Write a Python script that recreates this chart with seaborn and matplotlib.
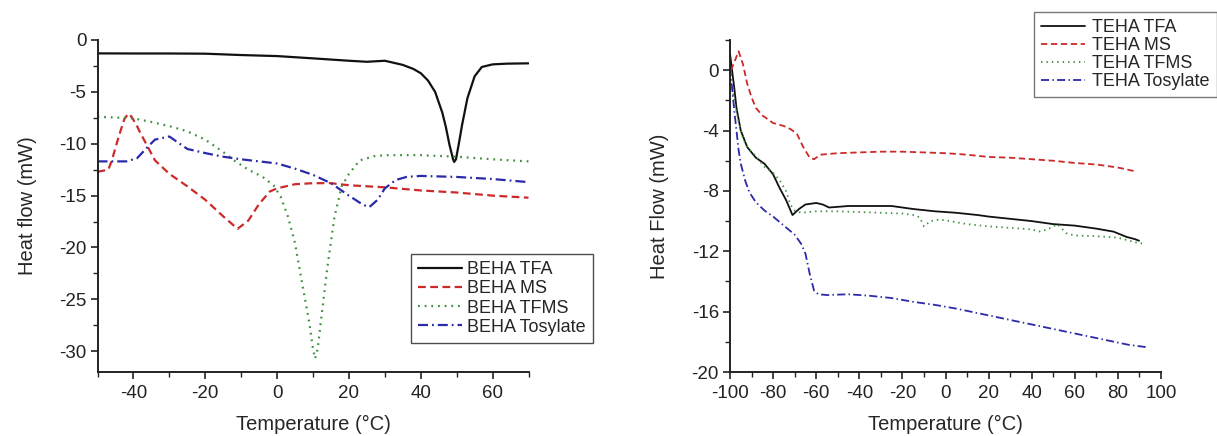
import matplotlib
matplotlib.use("Agg")
import matplotlib.pyplot as plt
from matplotlib.ticker import MultipleLocator
import seaborn as sns
import pandas as pd

# ---- BEHA salts (left panel) ----
beha_tfa_t = [-50, -40, -30, -20, -10, 0, 10, 20, 25, 30, 35, 38, 40, 42, 44, 46, 47, 48, 49,
              49.3, 49.8, 50.5, 51.5, 53, 55, 57, 60, 64, 70]
beha_tfa_q = [-1.29, -1.3, -1.3, -1.32, -1.45, -1.55, -1.77, -2.0, -2.1, -2.0, -2.4, -2.8,
              -3.2, -3.9, -5.0, -7.0, -8.4, -10.1, -11.5, -11.75, -11.5, -10.2, -8.2, -5.6,
              -3.5, -2.6, -2.35, -2.28, -2.25]

beha_ms_t = [-50, -47, -46, -44, -42.5, -41.4, -40.5, -39, -38, -36, -34, -30, -25, -20, -15,
             -11, -8, -5, -2, 0, 5, 10, 15, 20, 30, 40, 50, 60, 70]
beha_ms_q = [-12.7, -12.5, -11.6, -9.2, -7.6, -7.1, -7.4, -8.3, -9.0, -10.3, -11.6, -12.9,
             -14.1, -15.4, -17.0, -18.2, -17.4, -15.8, -14.6, -14.3, -13.9, -13.8, -13.8,
             -14.0, -14.2, -14.5, -14.7, -15.0, -15.2]

beha_tfms_t = [-50, -40, -35, -30, -25, -20, -15, -12, -8, -4, -1, 1, 3, 5, 7, 9, 10, 10.6,
               11.3, 12, 14, 16, 18, 20, 23, 27, 30, 40, 50, 60, 70]
beha_tfms_q = [-7.4, -7.55, -7.9, -8.3, -8.8, -9.6, -10.8, -11.6, -12.5, -13.2, -14.0, -15.1,
               -17.0, -19.6, -23.5, -27.3, -29.8, -30.7, -29.8, -27.7, -21.9, -17.0, -14.1,
               -12.9, -11.6, -11.2, -11.1, -11.1, -11.25, -11.5, -11.7]

beha_tos_t = [-50, -42, -39, -36, -34, -30, -25, -20, -15, -10, -5, 0, 5, 10, 15, 20, 24,
              25.7, 28, 30, 33, 36, 40, 50, 60, 70]
beha_tos_q = [-11.7, -11.7, -11.4, -10.3, -9.6, -9.3, -10.5, -10.9, -11.25, -11.5, -11.7,
              -11.9, -12.4, -13.0, -13.8, -15.0, -15.9, -16.1, -15.4, -14.3, -13.5, -13.2,
              -13.1, -13.2, -13.4, -13.7]

# ---- TEHA salts (right panel) ----
teha_tfa_t = [-100, -98, -97, -95, -92, -88, -84, -80, -77, -74, -71, -68, -65, -60, -57, -54,
              -45, -35, -25, -15, -5, 5, 15, 20, 30, 40, 50, 60, 70, 78, 84, 88, 89.8]
teha_tfa_q = [1.1, -1.2, -2.5, -4.0, -5.1, -5.8, -6.2, -6.9, -7.8, -8.6, -9.6, -9.2, -8.9,
              -8.8, -8.9, -9.1, -9.0, -9.0, -9.0, -9.2, -9.35, -9.45, -9.6, -9.7, -9.85,
              -10.0, -10.2, -10.3, -10.5, -10.7, -11.05, -11.2, -11.3]

teha_ms_t = [-99.5, -96, -94, -92, -90, -88, -85, -80, -75, -72, -69, -66, -63, -61, -58, -50,
             -40, -30, -20, -10, 0, 10, 20, 30, 40, 50, 60, 70, 80, 88]
teha_ms_q = [0.0, 1.25, 0.4, -0.9, -1.8, -2.5, -3.0, -3.5, -3.7, -3.9, -4.2, -5.1, -5.8, -5.9,
             -5.6, -5.5, -5.45, -5.4, -5.4, -5.45, -5.5, -5.6, -5.75, -5.8, -5.9, -6.0,
             -6.15, -6.25, -6.45, -6.7]

teha_tfms_t = [-100, -98, -96, -94, -92, -88, -84, -80, -77, -74, -72, -70, -67, -60, -50, -40,
               -30, -20, -15, -12, -10, -7, -3, 0, 10, 20, 30, 40, 44, 48, 52, 56, 60, 70,
               80, 88, 92]
teha_tfms_q = [-0.5, -2.0, -3.4, -4.5, -5.1, -5.7, -6.4, -6.8, -7.3, -8.0, -8.9, -9.3, -9.45,
               -9.35, -9.35, -9.4, -9.45, -9.5, -9.6, -9.75, -10.35, -10.0, -9.9, -9.95,
               -10.2, -10.35, -10.45, -10.55, -10.7, -10.5, -10.2, -10.8, -10.95, -11.0,
               -11.1, -11.4, -11.5]

teha_tos_t = [-100, -99, -98, -97, -96, -95, -93, -91, -88, -84, -80, -75, -70, -67, -65, -63,
              -61, -59, -55, -45, -35, -25, -15, -5, 5, 15, 25, 35, 45, 55, 65, 75, 85, 93]
teha_tos_q = [0.15, -1.2, -2.7, -4.0, -5.3, -6.2, -7.3, -8.1, -8.75, -9.3, -9.7, -10.3, -10.9,
              -11.5, -12.15, -13.5, -14.6, -14.85, -14.9, -14.85, -14.95, -15.1, -15.35,
              -15.55, -15.8, -16.1, -16.4, -16.7, -17.0, -17.3, -17.6, -17.9, -18.2, -18.35]

salts = ["TFA", "MS", "TFMS", "Tosylate"]
colors = ["#111111", "#cc2a2a", "#3d8f3d", "#2a2aaa"]
dashes = [None, (3.5, 2.0), (0.8, 2.2), (4.5, 1.8, 0.8, 1.8)]

sns.set_theme(style="white")
plt.rcParams["font.family"] = ["Liberation Sans", "DejaVu Sans"]
plt.rcParams["axes.unicode_minus"] = False

W, H = 1217, 436
fig = plt.figure(figsize=(W / 100, H / 100), dpi=100)


def box(x0, x1, y0, y1):
    return [x0 / W, 1 - y1 / H, (x1 - x0) / W, (y1 - y0) / H]


axL = fig.add_axes(box(97.5, 528.5, 40, 372))
axR = fig.add_axes(box(730, 1161, 40, 372))

left_sets = [(beha_tfa_t, beha_tfa_q), (beha_ms_t, beha_ms_q),
             (beha_tfms_t, beha_tfms_q), (beha_tos_t, beha_tos_q)]
right_sets = [(teha_tfa_t, teha_tfa_q), (teha_ms_t, teha_ms_q),
              (teha_tfms_t, teha_tfms_q), (teha_tos_t, teha_tos_q)]


def draw(ax, sets, prefix, lw):
    for (t, q), name, c, d in zip(sets, salts, colors, dashes):
        df = pd.DataFrame({"T": t, "Q": q})
        sns.lineplot(data=df, x="T", y="Q", ax=ax, color=c, sort=False,
                     linewidth=lw, label=f"{prefix} {name}")
        if d is not None:
            ax.get_lines()[-1].set_dashes(d)


draw(axL, left_sets, "BEHA", 1.6)
draw(axR, right_sets, "TEHA", 1.3)

for ax in (axL, axR):
    for s in ("top", "right"):
        ax.spines[s].set_visible(False)
    for s in ("left", "bottom"):
        ax.spines[s].set_color("#222222")
        ax.spines[s].set_linewidth(1.4)
    ax.tick_params(which="major", direction="out", length=5, width=1.2,
                   colors="#222222", labelsize=13.5, bottom=True, left=True)
    ax.tick_params(axis="x", which="major", pad=4)
    ax.tick_params(axis="y", which="major", pad=3)
    ax.tick_params(which="minor", direction="out", length=3.5, width=1.0,
                   colors="#222222", bottom=True, left=True)
    ax.set_xlabel("Temperature (°C)", fontsize=14.5, labelpad=10)
    ax.grid(False)

axL.set_xlim(-50, 70)
axL.set_ylim(-32, 0)
axL.set_xticks([-40, -20, 0, 20, 40, 60])
axL.xaxis.set_minor_locator(MultipleLocator(10))
axL.yaxis.set_major_locator(MultipleLocator(5))
axL.yaxis.set_minor_locator(MultipleLocator(2.5))
axL.set_ylabel("Heat flow (mW)", fontsize=14.5, labelpad=16)

axR.set_xlim(-100, 100)
axR.set_ylim(-20, 2)
axR.xaxis.set_major_locator(MultipleLocator(20))
axR.xaxis.set_minor_locator(MultipleLocator(10))
axR.set_yticks([0, -4, -8, -12, -16, -20])
axR.yaxis.set_minor_locator(MultipleLocator(2))
axR.set_ylabel("Heat Flow (mW)", fontsize=14.5, labelpad=16)

legL = axL.legend(loc="upper left", bbox_to_anchor=(411 / W, 1 - 254 / H),
                  bbox_transform=fig.transFigure, borderaxespad=0, fontsize=13,
                  frameon=True, fancybox=False, edgecolor="#222222",
                  handlelength=2.4, handletextpad=0.3, labelspacing=0.12,
                  borderpad=0.4)
legL.get_frame().set_linewidth(1.0)

legR = axR.legend(loc="upper left", bbox_to_anchor=(1034 / W, 1 - 12 / H),
                  bbox_transform=fig.transFigure, borderaxespad=0, fontsize=13,
                  frameon=True, fancybox=False, edgecolor="#555555",
                  handlelength=2.4, handletextpad=0.4, labelspacing=0.05,
                  borderpad=0.4)
legR.get_frame().set_linewidth(1.0)

fig.savefig("out.png", dpi=100, facecolor="white")
